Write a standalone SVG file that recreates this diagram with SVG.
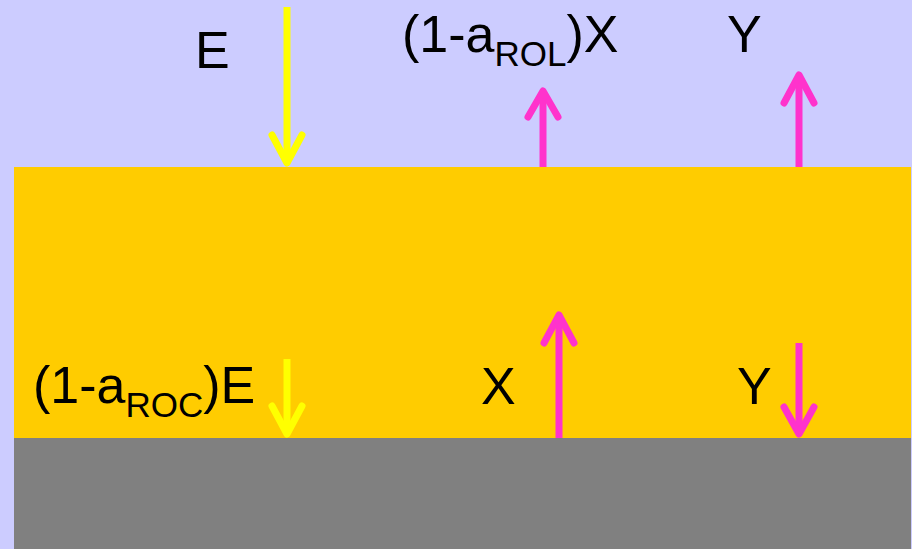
<svg xmlns="http://www.w3.org/2000/svg" width="912" height="549" viewBox="0 0 912 549">
<style>
.lbl{font-family:"Liberation Sans",Arial,sans-serif;font-size:52px;fill:#000}
.sub{font-size:35px}
.y{stroke:#FFFF00;stroke-width:7;fill:none;stroke-linecap:round;stroke-linejoin:round}
.m{stroke:#FF33CC;stroke-width:7;fill:none;stroke-linecap:round;stroke-linejoin:round}
.shaft{stroke-linecap:butt}
</style>
<rect x="0" y="0" width="912" height="549" fill="#CCCCFF"/>
<g id="layer-orange"><rect x="14" y="167" width="897" height="271" fill="#FFCC00"/></g>
<g id="layer-ground"><rect x="14" y="438" width="897" height="111" fill="#808080"/></g>
<g id="connectors">
  <line class="y shaft" x1="287" y1="7" x2="287" y2="160"/>
  <polyline class="y" points="272,135 287,163 302,135"/>
  <line class="m shaft" x1="543" y1="167" x2="543" y2="94"/>
  <polyline class="m" points="528,117 543,91 558,117"/>
  <line class="m shaft" x1="799" y1="167" x2="799" y2="78"/>
  <polyline class="m" points="784,103 799,75 814,103"/>
  <line class="y shaft" x1="287" y1="359" x2="287" y2="431"/>
  <polyline class="y" points="272,406 287,434 302,406"/>
  <line class="m shaft" x1="559" y1="438" x2="559" y2="318"/>
  <polyline class="m" points="544,343 559,315 574,343"/>
  <line class="m shaft" x1="799" y1="343" x2="799" y2="431"/>
  <polyline class="m" points="784,407 799,434 814,407"/>
</g>
<g id="label-E"><text class="lbl" x="195" y="68">E</text></g>
<g id="label-ROL"><text class="lbl" x="402" y="52">(1-a<tspan class="sub" dy="14">ROL</tspan><tspan dy="-14">)X</tspan></text></g>
<g id="label-Y-top"><text class="lbl" x="727" y="52">Y</text></g>
<g id="label-ROC"><text class="lbl" x="33" y="403">(1-a<tspan class="sub" dy="14">ROC</tspan><tspan dy="-14">)E</tspan></text></g>
<g id="label-X"><text class="lbl" x="481" y="404">X</text></g>
<g id="label-Y-bottom"><text class="lbl" x="737" y="404">Y</text></g>
</svg>
